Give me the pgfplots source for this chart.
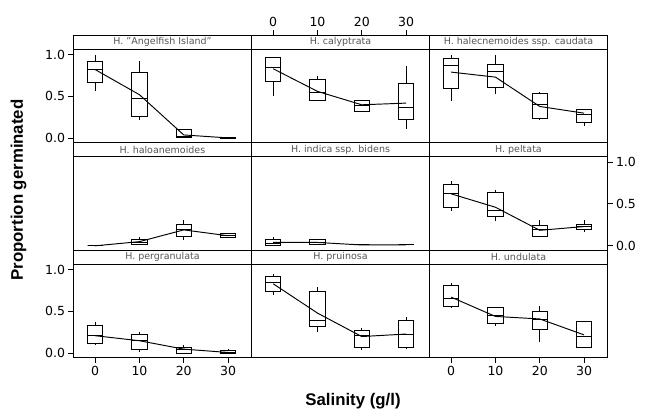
\documentclass[border=0pt]{standalone}
\usepackage{fontspec}
\setmainfont{DejaVu Sans}
\newfontfamily\labfont{Liberation Sans}
\usepackage{pgfplots}
\pgfplotsset{compat=1.18}
\usepgfplotslibrary{statistics}
\definecolor{striptext}{RGB}{85,85,85}
\pgfplotsset{
  panel/.style={
    scale only axis, width=178pt, height=107.5pt,
    xmin=-4.9, xmax=35.3, ymin=-0.05, ymax=1.2328,
    anchor=south west, clip mode=individual,
    axis line style={line width=0.9pt},
    tick align=outside, major tick length=5pt,
    tick style={line width=0.9pt, black},
    ticklabel style={font=\fontsize{12.5}{13}\selectfont},
    /pgf/number format/assume math mode=true,
    yticklabel style={/pgf/number format/fixed, /pgf/number format/fixed zerofill, /pgf/number format/precision=1},
    xtick=\empty, ytick=\empty,
  },
  leftticks/.style={ytick={0,0.5,1}, ytick pos=left, yticklabel pos=left},
  rightticks/.style={ytick={0,0.5,1}, ytick pos=right, yticklabel pos=right},
  bottomticks/.style={xtick={0,10,20,30}, xtick pos=left, xticklabel pos=left},
  topticks/.style={xtick={0,10,20,30}, xtick pos=right, xticklabel pos=right},
  bp/.style={black, line width=0.95pt, boxplot/draw direction=y, boxplot/box extend=3.4, boxplot/whisker extend=0},
  ml/.style={black, line width=0.95pt},
}
\newcommand{\strip}[1]{%
  \draw[line width=0.9pt] (rel axis cs:0,0.8698) -- (rel axis cs:1,0.8698);
  \node[font=\fontsize{9.5}{10}\selectfont, text=striptext] at (rel axis cs:0.5,0.935) {#1};}
\newcommand{\bx}[6]{\addplot[bp, boxplot prepared={draw position=#1, lower whisker=#2, lower quartile=#3, median=#4, upper quartile=#5, upper whisker=#6}] coordinates {};}
\begin{document}
\begin{tikzpicture}
\useasboundingbox (0pt,0pt) rectangle (645pt,-414pt);
% Row 1
\begin{axis}[panel, leftticks, at={(73.5pt,-142.5pt)}]
\bx{0}{0.56}{0.67}{0.82}{0.92}{0.99}
\bx{10}{0.22}{0.26}{0.47}{0.79}{0.92}
\bx{20}{0.01}{0.01}{0.02}{0.10}{0.10}
\bx{30}{0}{0}{0}{0.01}{0.01}
\addplot[ml] coordinates {(0,0.82) (10,0.52) (20,0.04) (30,0.005)};
\strip{H. "Angelfish Island"}
\end{axis}
\begin{axis}[panel, topticks, at={(251.5pt,-142.5pt)}]
\bx{0}{0.51}{0.68}{0.85}{0.97}{0.97}
\bx{10}{0.45}{0.45}{0.55}{0.70}{0.74}
\bx{20}{0.32}{0.32}{0.39}{0.45}{0.45}
\bx{30}{0.11}{0.22}{0.37}{0.66}{0.86}
\addplot[ml] coordinates {(0,0.83) (10,0.56) (20,0.40) (30,0.42)};
\strip{H. calyptrata}
\end{axis}
\begin{axis}[panel, at={(429.5pt,-142.5pt)}]
\bx{0}{0.44}{0.60}{0.87}{0.95}{0.99}
\bx{10}{0.53}{0.61}{0.80}{0.88}{0.99}
\bx{20}{0.22}{0.24}{0.40}{0.53}{0.55}
\bx{30}{0.15}{0.19}{0.29}{0.35}{0.35}
\addplot[ml] coordinates {(0,0.79) (10,0.73) (20,0.38) (30,0.30)};
\strip{H. halecnemoides ssp. caudata}
\end{axis}
% Row 2
\begin{axis}[panel, at={(73.5pt,-250pt)}]
\bx{0}{0}{0}{0}{0}{0}
\bx{10}{0.01}{0.01}{0.04}{0.08}{0.11}
\bx{20}{0.07}{0.11}{0.19}{0.26}{0.31}
\bx{30}{0.105}{0.105}{0.12}{0.145}{0.145}
\addplot[ml] coordinates {(0,0.0) (10,0.05) (20,0.19) (30,0.12)};
\strip{H. haloanemoides}
\end{axis}
\begin{axis}[panel, at={(251.5pt,-250pt)}]
\bx{0}{0}{0}{0.03}{0.08}{0.11}
\bx{10}{0.01}{0.01}{0.04}{0.07}{0.07}
\bx{20}{0.01}{0.01}{0.01}{0.01}{0.01}
\bx{30}{0.01}{0.01}{0.01}{0.01}{0.01}
\addplot[ml] coordinates {(0,0.04) (10,0.04) (20,0.01) (30,0.01)};
\strip{H. indica ssp. bidens}
\end{axis}
\begin{axis}[panel, rightticks, at={(429.5pt,-250pt)}]
\bx{0}{0.42}{0.46}{0.62}{0.73}{0.77}
\bx{10}{0.30}{0.35}{0.42}{0.64}{0.67}
\bx{20}{0.11}{0.11}{0.19}{0.24}{0.31}
\bx{30}{0.16}{0.19}{0.23}{0.26}{0.31}
\addplot[ml] coordinates {(0,0.62) (10,0.46) (20,0.185) (30,0.23)};
\strip{H. peltata}
\end{axis}
% Row 3
\begin{axis}[panel, leftticks, bottomticks, at={(73.5pt,-357.5pt)}]
\bx{0}{0.10}{0.12}{0.21}{0.33}{0.37}
\bx{10}{0.02}{0.05}{0.15}{0.22}{0.26}
\bx{20}{0}{0}{0.04}{0.07}{0.10}
\bx{30}{0}{0}{0.01}{0.03}{0.05}
\addplot[ml] coordinates {(0,0.21) (10,0.15) (20,0.05) (30,0.01)};
\strip{H. pergranulata}
\end{axis}
\begin{axis}[panel, at={(251.5pt,-357.5pt)}]
\bx{0}{0.69}{0.74}{0.84}{0.92}{0.95}
\bx{10}{0.25}{0.32}{0.39}{0.74}{0.79}
\bx{20}{0.04}{0.07}{0.21}{0.27}{0.30}
\bx{30}{0.05}{0.07}{0.23}{0.39}{0.43}
\addplot[ml] coordinates {(0,0.83) (10,0.48) (20,0.20) (30,0.23)};
\strip{H. pruinosa}
\end{axis}
\begin{axis}[panel, bottomticks, at={(429.5pt,-357.5pt)}]
\bx{0}{0.54}{0.56}{0.66}{0.81}{0.84}
\bx{10}{0.33}{0.36}{0.45}{0.55}{0.55}
\bx{20}{0.13}{0.28}{0.40}{0.50}{0.57}
\bx{30}{0.07}{0.07}{0.20}{0.38}{0.39}
\addplot[ml] coordinates {(0,0.67) (10,0.44) (20,0.41) (30,0.22)};
\strip{H. undulata}
\end{axis}
\node[rotate=90, font=\labfont\bfseries\fontsize{16.8}{17}\selectfont] at (18.5pt,-190pt) {Proportion germinated};
\node[font=\labfont\bfseries\fontsize{16.8}{17}\selectfont] at (353pt,-401pt) {Salinity (g/l)};
\end{tikzpicture}
\end{document}
